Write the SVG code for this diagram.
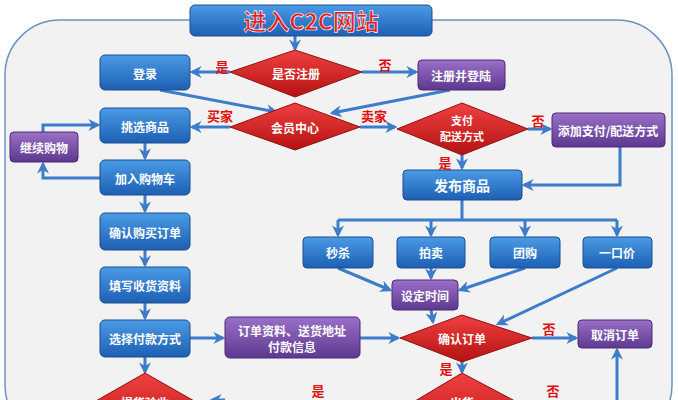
<svg xmlns="http://www.w3.org/2000/svg" width="678" height="400" viewBox="0 0 678 400">
<defs>
<linearGradient id="gb" x1="0" y1="0" x2="0" y2="1"><stop offset="0" stop-color="#4a9be6"/><stop offset="1" stop-color="#1d5fb3"/></linearGradient>
<linearGradient id="gp" x1="0" y1="0" x2="0" y2="1"><stop offset="0" stop-color="#9a70c8"/><stop offset="1" stop-color="#5e3890"/></linearGradient>
<linearGradient id="gr" x1="0" y1="0" x2="0" y2="1"><stop offset="0" stop-color="#f04040"/><stop offset="1" stop-color="#b41212"/></linearGradient>
<marker id="ar" viewBox="0 0 10 10" refX="8" refY="5" markerWidth="4" markerHeight="4" orient="auto"><path d="M0,0 L10,5 L0,10 L3,5 z" fill="#3d7cc9"/></marker>
</defs>
<style>
.b{fill:url(#gb);stroke:#1a4f90;stroke-width:1}
.p{fill:url(#gp);stroke:#4a2a75;stroke-width:1}
.r{fill:url(#gr);stroke:#901010;stroke-width:1}
text{font-family:"Noto Sans CJK SC","Liberation Sans",sans-serif;font-weight:bold;text-anchor:middle;dominant-baseline:central}
.t{fill:#fff;font-size:12px}
.l{fill:#e01010;font-size:13px}
.c line,.c path{stroke:#3d7cc9;stroke-width:3;fill:none;marker-end:url(#ar)}
.c .n{marker-end:none}
</style>
<rect x="5" y="20" width="667" height="420" rx="55" fill="#f2f2f2" stroke="#6d93bd" stroke-width="1.5"/>
<g class="c">
<line x1="295" y1="35" x2="295" y2="49"/>
<line x1="230" y1="72" x2="192" y2="72"/>
<line x1="362" y1="72" x2="416" y2="72"/>
<line x1="160" y1="90" x2="276" y2="112"/>
<line x1="450" y1="90" x2="332" y2="113"/>
<line x1="230" y1="127" x2="192" y2="127"/>
<line x1="360" y1="127" x2="395" y2="127"/>
<line x1="528" y1="129" x2="550" y2="129"/>
<line x1="462" y1="155" x2="462" y2="168"/>
<path d="M620,147 V185 H524"/>
<line x1="145" y1="143" x2="145" y2="158"/>
<path d="M100,178 H43 V164"/>
<path d="M43,132 V125 H98"/>
<line x1="145" y1="195" x2="145" y2="211"/>
<line x1="145" y1="250" x2="145" y2="265"/>
<line x1="145" y1="303" x2="145" y2="318"/>
<line x1="145" y1="357" x2="145" y2="372"/>
<path class="n" d="M462,200 V220 M338,220 H617"/>
<line x1="338" y1="220" x2="338" y2="235"/>
<line x1="431" y1="220" x2="431" y2="235"/>
<line x1="525" y1="220" x2="525" y2="235"/>
<line x1="617" y1="220" x2="617" y2="235"/>
<line x1="338" y1="268" x2="390" y2="290"/>
<line x1="431" y1="268" x2="431" y2="278"/>
<line x1="525" y1="268" x2="460" y2="290"/>
<line x1="617" y1="268" x2="498" y2="324"/>
<line x1="431" y1="310" x2="433" y2="322"/>
<line x1="190" y1="338" x2="223" y2="338"/>
<line x1="360" y1="338" x2="398" y2="338"/>
<line x1="532" y1="338" x2="576" y2="338"/>
<line x1="462" y1="362" x2="462" y2="372"/>
<line x1="617" y1="402" x2="617" y2="350"/>
<line x1="225" y1="400" x2="212" y2="400"/>
</g>
<g id="title"><rect x="190" y="5" width="242" height="31" rx="5" class="b"/><text x="311" y="20" style="font-size:23px;fill:#e02020;stroke:#fff;stroke-width:0.6">进入C2C网站</text></g>
<g id="d1"><polygon points="230,72 295,50 362,72 295,97" class="r"/><text class="t" x="296" y="73">是否注册</text></g>
<g id="login"><rect x="100" y="55" width="90" height="35" rx="5" class="b"/><text class="t" x="145" y="73">登录</text></g>
<g id="reg"><rect x="418" y="60" width="87" height="30" rx="4" class="p"/><text class="t" x="461" y="75">注册并登陆</text></g>
<g id="d2"><polygon points="230,127 295,103 360,127 295,150" class="r"/><text class="t" x="295" y="127">会员中心</text></g>
<g id="pick"><rect x="100" y="108" width="90" height="35" rx="5" class="b"/><text class="t" x="145" y="126">挑选商品</text></g>
<g id="cont"><rect x="10" y="132" width="68" height="30" rx="4" class="p"/><text class="t" x="44" y="147">继续购物</text></g>
<g id="cart"><rect x="100" y="160" width="90" height="35" rx="5" class="b"/><text class="t" x="145" y="178">加入购物车</text></g>
<g id="d3"><polygon points="397,129 462,103 528,129 462,155" class="r"/><text class="t" x="462" y="120" style="font-size:11px">支付</text><text class="t" x="462" y="136" style="font-size:11px">配送方式</text></g>
<g id="addpay"><rect x="552" y="113" width="113" height="34" rx="4" class="p"/><text class="t" x="608" y="130">添加支付/配送方式</text></g>
<g id="pub"><rect x="403" y="170" width="119" height="30" rx="4" class="b"/><text class="t" x="462" y="185" style="font-size:14px">发布商品</text></g>
<g id="confirmbuy"><rect x="100" y="213" width="90" height="37" rx="5" class="b"/><text class="t" x="145" y="232">确认购买订单</text></g>
<g id="fill"><rect x="100" y="267" width="90" height="36" rx="5" class="b"/><text class="t" x="145" y="285">填写收货资料</text></g>
<g id="paymode"><rect x="100" y="320" width="90" height="37" rx="5" class="b"/><text class="t" x="145" y="338">选择付款方式</text></g>
<g id="ms"><rect x="303" y="237" width="70" height="31" rx="4" class="b"/><text class="t" x="338" y="252">秒杀</text></g>
<g id="pm"><rect x="397" y="237" width="68" height="31" rx="4" class="b"/><text class="t" x="431" y="252">拍卖</text></g>
<g id="tg"><rect x="490" y="237" width="70" height="31" rx="4" class="b"/><text class="t" x="525" y="252">团购</text></g>
<g id="ykj"><rect x="583" y="237" width="69" height="31" rx="4" class="b"/><text class="t" x="617" y="252">一口价</text></g>
<g id="settime"><rect x="392" y="280" width="66" height="30" rx="4" class="p"/><text class="t" x="425" y="295">设定时间</text></g>
<g id="info"><rect x="225" y="317" width="135" height="41" rx="5" class="p"/><text class="t" x="292" y="330">订单资料、送货地址</text><text class="t" x="292" y="346">付款信息</text></g>
<g id="d4"><polygon points="400,338 462,315 532,338 462,362" class="r"/><text class="t" x="462" y="338">确认订单</text></g>
<g id="cancel"><rect x="578" y="320" width="74" height="28" rx="4" class="p"/><text class="t" x="615" y="334">取消订单</text></g>
<g id="d5"><polygon points="80,410 145,373 210,410 145,447" class="r"/><text class="t" x="145" y="402">提货验收</text></g>
<g id="d6"><polygon points="400,410 462,373 532,410 462,447" class="r"/><text class="t" x="462" y="402">出货</text></g>
<g id="labels">
<text class="l" x="222" y="66">是</text><text class="l" x="385" y="64">否</text>
<text class="l" x="220" y="115">买家</text><text class="l" x="374" y="115">卖家</text>
<text class="l" x="538" y="120">否</text><text class="l" x="445" y="162">是</text>
<text class="l" x="549" y="328">否</text><text class="l" x="446" y="368">是</text>
<text class="l" x="318" y="390">是</text><text class="l" x="553" y="390">否</text>
</g>
</svg>
